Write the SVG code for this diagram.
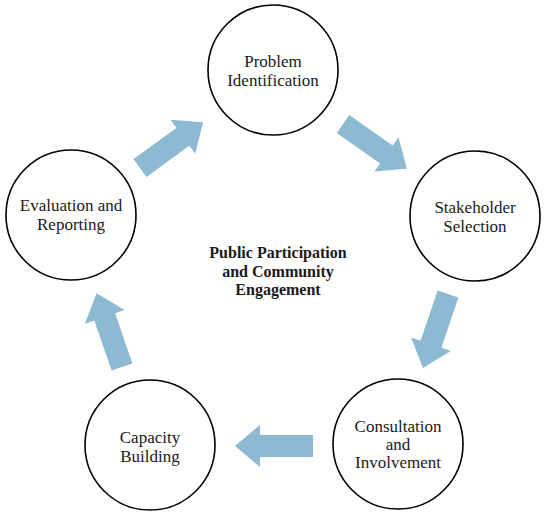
<svg xmlns="http://www.w3.org/2000/svg" width="550" height="519" viewBox="0 0 550 519">
  <style>
    .node circle { fill: #ffffff; stroke: #000000; stroke-width: 1.6; }
    .node text { font-family: "Liberation Serif", "DejaVu Serif", serif; font-size: 17px; fill: #1a1a1a; text-anchor: middle; }
    .center text { font-family: "Liberation Serif", "DejaVu Serif", serif; font-size: 16px; font-weight: bold; fill: #1a1a1a; text-anchor: middle; }
    .arrow { fill: #8dbad2; }
  </style>
  <defs>
    <polygon id="blockArrow" points="0,-11 53,-11 53,-21 78,0 53,21 53,11 0,11"/>
  </defs>
  <rect width="550" height="519" fill="#ffffff"/>

  <g id="connectors">
    <use href="#blockArrow" class="arrow" transform="translate(140,168) rotate(-36)"/>
    <use href="#blockArrow" class="arrow" transform="translate(343,124) rotate(35)"/>
    <use href="#blockArrow" class="arrow" transform="translate(448,294) rotate(108.7)"/>
    <use href="#blockArrow" class="arrow" transform="translate(313,446) rotate(180)"/>
    <use href="#blockArrow" class="arrow" transform="translate(122,367) rotate(-109)"/>
  </g>

  <g id="problem-identification" class="node">
    <circle cx="273" cy="70" r="65"/>
    <text x="273" y="67">Problem</text>
    <text x="273" y="86">Identification</text>
  </g>

  <g id="stakeholder-selection" class="node">
    <circle cx="475" cy="216" r="65"/>
    <text x="475" y="213">Stakeholder</text>
    <text x="475" y="232">Selection</text>
  </g>

  <g id="consultation-involvement" class="node">
    <circle cx="398" cy="444" r="65"/>
    <text x="398" y="432">Consultation</text>
    <text x="398" y="450">and</text>
    <text x="398" y="468">Involvement</text>
  </g>

  <g id="capacity-building" class="node">
    <circle cx="150" cy="445" r="65"/>
    <text x="150" y="443">Capacity</text>
    <text x="150" y="462">Building</text>
  </g>

  <g id="evaluation-reporting" class="node">
    <circle cx="71" cy="215" r="65"/>
    <text x="71" y="211">Evaluation and</text>
    <text x="71" y="230">Reporting</text>
  </g>

  <g id="center-label" class="center">
    <text x="278" y="258">Public Participation</text>
    <text x="278" y="277">and Community</text>
    <text x="278" y="295">Engagement</text>
  </g>
</svg>
